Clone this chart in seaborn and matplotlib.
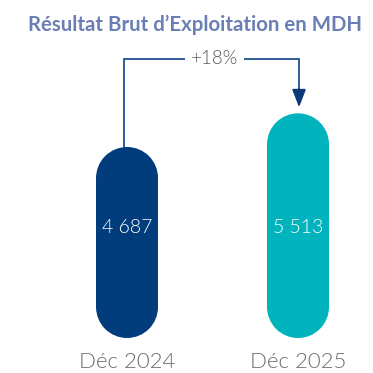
import matplotlib
matplotlib.use("Agg")
import matplotlib.pyplot as plt
from matplotlib.patches import Ellipse, Rectangle
import seaborn as sns
import pandas as pd

# Data
periods = ["Déc 2024", "Déc 2025"]
rbe_values = [4687, 5513]
value_labels = ["4 687", "5 513"]
growth_label = "+18%"
title = "Résultat Brut d’Exploitation en MDH"

bar_colors = ["#013c7c", "#00b3bd"]
line_color = "#1f4f91"

sns.set_theme(style="white")
plt.rcParams["font.family"] = ["Lato", "DejaVu Sans"]

W = H = 373
fig = plt.figure(figsize=(W / 100, H / 100), dpi=100)
ax_bottom_px = 35
ax = fig.add_axes([0, ax_bottom_px / H, 1, (H - ax_bottom_px) / H])

df = pd.DataFrame({"period": periods, "rbe": rbe_values})
sns.barplot(data=df, x="period", y="rbe", hue="period", palette=bar_colors,
            width=0.3626, legend=False, ax=ax, saturation=1)

xlim = (-0.743, 1.4386)
ylim = (0, 8294)
ax.set_xlim(*xlim)
ax.set_ylim(*ylim)

# pixels per data unit, used to keep rounded ends circular
px_x = W / (xlim[1] - xlim[0])
px_y = (H - ax_bottom_px) / (ylim[1] - ylim[0])
aspect = px_x / px_y

# turn each rectangular bar into a pill: a body plus two round caps
for patch in list(ax.patches):
    x0, w, h = patch.get_x(), patch.get_width(), patch.get_height()
    color = patch.get_facecolor()
    patch.remove()
    ry = (w / 2) * aspect  # cap radius in value units
    xc = x0 + w / 2
    ax.add_patch(Rectangle((x0, ry * 0.98), w, h - 2 * ry * 0.98,
                           facecolor=color, edgecolor="none", zorder=2))
    for yc in (ry, h - ry):
        ax.add_patch(Ellipse((xc, yc), w, 2 * ry, facecolor=color,
                             edgecolor="none", zorder=2))

# value labels inside the bars
label_y = 2700
for i, txt in enumerate(value_labels):
    ax.text(i, label_y, txt, ha="center", va="center", color="white",
            fontsize=14, fontweight=300, zorder=3)

# growth bracket with arrow
bracket_y = 6847
x_left, x_right = -0.015, 1.006
ax.plot([x_left, x_left, x_right, x_right],
        [rbe_values[0], bracket_y, bracket_y, rbe_values[1] + 600],
        color=line_color, lw=1.3, solid_joinstyle="miter", zorder=1)
ax.annotate("", xy=(x_right, rbe_values[1] + 150),
            xytext=(x_right, rbe_values[1] + 600),
            arrowprops=dict(arrowstyle="-|>,head_length=0.9,head_width=0.35",
                            color="#0b3a78", lw=1.3, shrinkA=0, shrinkB=0))
ax.text((x_left + x_right) / 2 + 0.015, bracket_y, growth_label,
        ha="center", va="center", color="#5a5a5a", fontsize=13.5,
        fontweight=300,
        bbox=dict(facecolor="white", edgecolor="none", pad=4), zorder=3)

# axes styling; period labels drawn below the bars on their baseline
sns.despine(ax=ax, left=True, bottom=True)
ax.set_yticks([])
ax.set_xticks([])
ax.set_xlabel("")
ax.set_ylabel("")
for i, txt in enumerate(periods):
    ax.annotate(txt, xy=(i, 0), xytext=(0, -(368 - 338) * 0.72),
                textcoords="offset points", ha="center", va="baseline",
                fontsize=16, fontweight=300, color="#6a6a6a",
                annotation_clip=False)

fig.text(195 / W, 1 - 25 / H, title, ha="center", va="center",
         fontsize=14.7, fontweight="bold", color="#6a7fb5")

fig.savefig("out.png", dpi=100, facecolor="white")
